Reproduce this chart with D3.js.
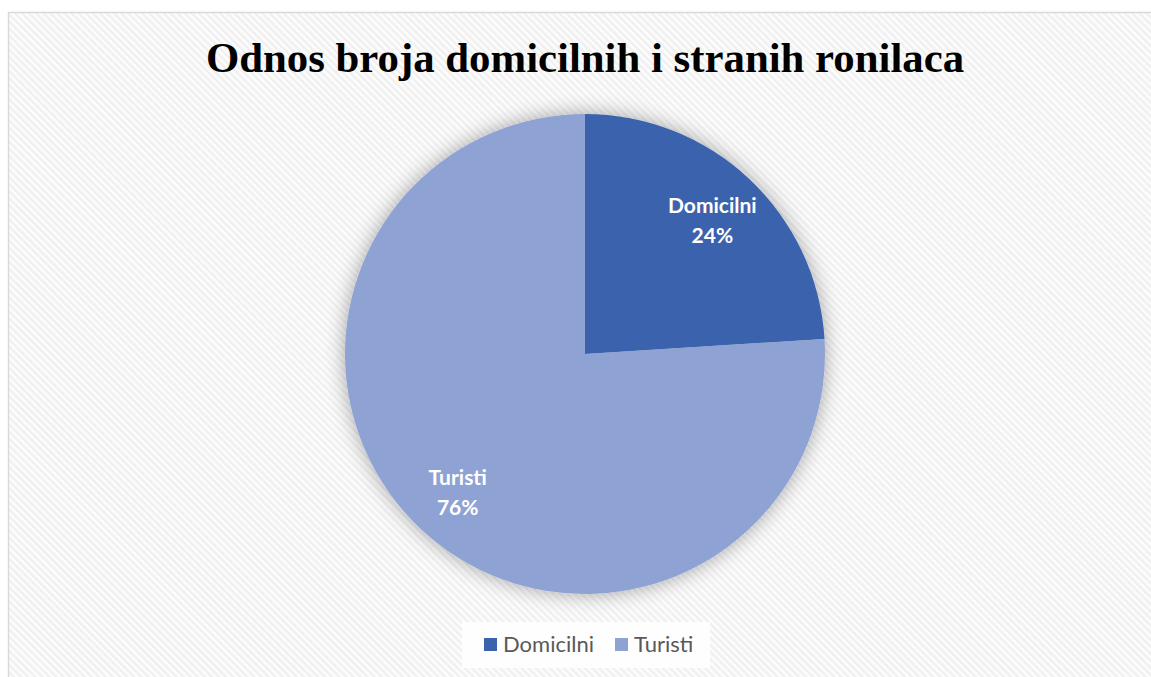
<!DOCTYPE html>
<html><head><meta charset="utf-8">
<script src="https://cdn.jsdelivr.net/npm/d3@7"></script>
<style>body{margin:0;background:#fff;}svg{display:block;}</style>
</head><body>
<svg id="c" width="1151" height="677"></svg>
<script>
const title = "Odnos broja domicilnih i stranih ronilaca";
const categories = ["Domicilni", "Turisti"];
const values = [24, 76];
const colors = ["#3B63AD", "#8FA2D4"];

const svg = d3.select("#c");
const defs = svg.append("defs");
const pat = defs.append("pattern").attr("id","hatch").attr("patternUnits","userSpaceOnUse")
  .attr("width",5).attr("height",5).attr("patternTransform","rotate(-45)");
pat.append("rect").attr("width",5).attr("height",5).attr("fill","#fdfdfd");
pat.append("rect").attr("width",2.5).attr("height",5).attr("fill","#f0f0f0");
const f = defs.append("filter").attr("id","sh").attr("x","-20%").attr("y","-20%").attr("width","140%").attr("height","140%");
f.append("feGaussianBlur").attr("in","SourceAlpha").attr("stdDeviation",10).attr("result","b");
f.append("feFlood").attr("flood-color","#000").attr("flood-opacity",0.35);
f.append("feComposite").attr("in2","b").attr("operator","in").attr("result","s");
const m = f.append("feMerge"); m.append("feMergeNode").attr("in","s"); m.append("feMergeNode").attr("in","SourceGraphic");

svg.append("rect").attr("x",8.5).attr("y",12.5).attr("width",1160).attr("height",700)
  .attr("fill","url(#hatch)").attr("stroke","#d9d9d9").attr("stroke-width",1.5);

svg.append("text").attr("x",585).attr("y",72).attr("text-anchor","middle")
  .attr("font-family","'Liberation Serif','Times New Roman',serif").attr("font-weight","bold")
  .attr("font-size",42.8).attr("fill","#000").text(title);

const cx = 585, cy = 354, R = 240;
const pie = d3.pie().sort(null).value(d=>d)(values);
const arc = d3.arc().innerRadius(0).outerRadius(R);
const labelArc = d3.arc().innerRadius(186).outerRadius(186);
const g = svg.append("g").attr("transform",`translate(${cx},${cy})`);
g.append("g").attr("filter","url(#sh)").selectAll("path").data(pie).join("path")
  .attr("d",arc).attr("fill",(d,i)=>colors[i]);

const lab = g.selectAll("text.l").data(pie).join("text").attr("class","l")
  .attr("transform",d=>`translate(${labelArc.centroid(d)})`)
  .attr("text-anchor","middle").attr("fill","#fff")
  .attr("font-family","Lato,'Open Sans',sans-serif").attr("font-weight","bold").attr("font-size",21);
lab.append("tspan").attr("x",0).attr("dy",-5).text((d,i)=>categories[i]);
lab.append("tspan").attr("x",0).attr("dy",30).text(d=>d3.format(".0%")(d.value/100));

const lg = svg.append("g");
lg.append("rect").attr("x",462).attr("y",622).attr("width",248).attr("height",46).attr("fill","#fefefe");
const items = [{x:484},{x:615}];
items.forEach((it,i)=>{
  lg.append("rect").attr("x",it.x).attr("y",638).attr("width",13).attr("height",13).attr("fill",colors[i]);
  lg.append("text").attr("x",it.x+19).attr("y",652).attr("font-family","Lato,'Open Sans',sans-serif")
    .attr("font-size",22).attr("fill","#595959").text(categories[i]);
});
</script>
</body></html>
